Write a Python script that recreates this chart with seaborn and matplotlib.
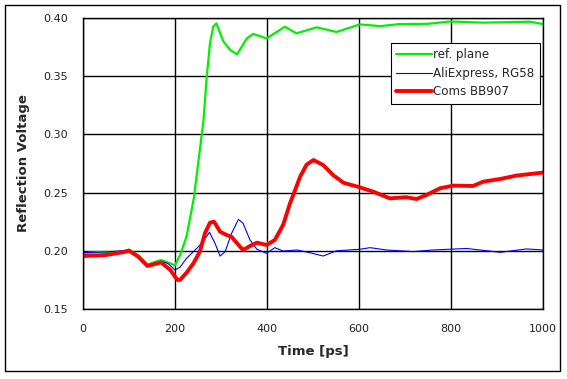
import numpy as np
import pandas as pd
import seaborn as sns
import matplotlib.pyplot as plt
from matplotlib.patches import Rectangle

# values
t_ref = [0, 40, 80, 100, 120, 140, 160, 170, 185, 200, 211, 225, 241, 254, 262, 269, 276, 283,
         290, 305, 320, 335, 356, 370, 399, 439, 464, 508, 551, 602, 646, 689, 750, 798, 870,
         972, 1000]
v_ref = [0.198, 0.199, 0.199, 0.201, 0.196, 0.188, 0.191, 0.192, 0.190, 0.1875, 0.1964, 0.212,
         0.2454, 0.2866, 0.3124, 0.3496, 0.378, 0.3925, 0.3954, 0.380, 0.3725, 0.3688, 0.3825,
         0.3863, 0.3825, 0.3925, 0.3868, 0.392, 0.388, 0.3945, 0.393, 0.3948, 0.395, 0.397,
         0.396, 0.3968, 0.3948]

t_ali = [0, 50, 100, 120, 140, 170, 185, 200, 211, 225, 240, 258, 275, 287, 298, 309, 323,
         338, 348, 363, 378, 399, 417, 435, 465, 493, 522, 551, 602, 624, 660, 718, 761, 834,
         907, 964, 1000]
v_ali = [0.1985, 0.199, 0.2005, 0.196, 0.187, 0.191, 0.189, 0.1835, 0.186, 0.1935, 0.1993,
         0.2064, 0.2159, 0.2064, 0.1955, 0.1993, 0.215, 0.227, 0.2236, 0.2093, 0.2013, 0.1978,
         0.2027, 0.1998, 0.2007, 0.1984, 0.1955, 0.200, 0.2013, 0.2027, 0.2007, 0.1993, 0.2007,
         0.202, 0.1987, 0.2016, 0.2007]

t_coms = [0, 50, 90, 100, 120, 140, 170, 190, 205, 211, 225, 240, 254, 265, 276, 285, 298,
          312, 323, 338, 348, 363, 378, 399, 417, 435, 450, 461, 472, 486, 501, 522, 544, 566,
          602, 631, 667, 703, 725, 747, 776, 805, 848, 870, 907, 942, 1000]
v_coms = [0.1955, 0.1964, 0.199, 0.2001, 0.195, 0.187, 0.190, 0.1835, 0.175, 0.175, 0.1811,
          0.1892, 0.1993, 0.215, 0.2242, 0.225, 0.2164, 0.2136, 0.212, 0.205, 0.2007, 0.2041,
          0.207, 0.205, 0.2093, 0.2222, 0.2408, 0.252, 0.2637, 0.274, 0.278, 0.2737, 0.265,
          0.2585, 0.2545, 0.2508, 0.2451, 0.246, 0.2445, 0.248, 0.2537, 0.256, 0.2557, 0.2594,
          0.2617, 0.2646, 0.2672]

x_ticks = [0, 200, 400, 600, 800, 1000]
y_ticks = [0.15, 0.20, 0.25, 0.30, 0.35, 0.40]

sns.set_style("white")
plt.rcParams['font.family'] = ['DejaVu Sans']

fig = plt.figure(figsize=(5.67, 3.79), dpi=100)
ax = fig.add_axes([83 / 567, 1 - 309 / 379, 460 / 567, 291 / 379])

series = [
    ("ref. plane", t_ref, v_ref, "#00f000", 1.6),
    ("AliExpress, RG58", t_ali, v_ali, "#0000ff", 0.8),
    ("Coms BB907", t_coms, v_coms, "#ff0000", 2.8),
]
for name, t, v, col, lw in series:
    df = pd.DataFrame({"t": t, "v": v})
    sns.lineplot(data=df, x="t", y="v", ax=ax, color=col, linewidth=lw,
                 label=name, estimator=None, sort=False)

ax.set_xlim(0, 1000)
ax.set_ylim(0.15, 0.40)
ax.set_xticks(x_ticks)
ax.set_yticks(y_ticks)
ax.set_yticklabels([f"{y:.2f}" for y in y_ticks])
ax.grid(True, color="black", linewidth=1.0)
ax.tick_params(length=0, labelsize=8, pad=11, colors="#202020")
for s in ax.spines.values():
    s.set_color("black")
    s.set_linewidth(1.0)

ax.set_xlabel("Time [ps]", fontsize=9.5, fontweight="bold", labelpad=8)
ax.set_ylabel("Reflection Voltage", fontsize=9.5, fontweight="bold", labelpad=9)

leg = ax.legend(loc="upper right", bbox_to_anchor=(0.993, 0.914), fontsize=8.6,
                frameon=True, fancybox=False, framealpha=1, edgecolor="black",
                handlelength=3.0, handletextpad=0.1, labelspacing=0.45, borderpad=0.45,
                borderaxespad=0)
leg.get_frame().set_linewidth(0.8)

fig.patches.append(Rectangle((5 / 567, 1 - 371 / 379), 555 / 567, 366 / 379,
                             transform=fig.transFigure, fill=False,
                             edgecolor="black", linewidth=1.0))

fig.savefig("out.png", dpi=100)
